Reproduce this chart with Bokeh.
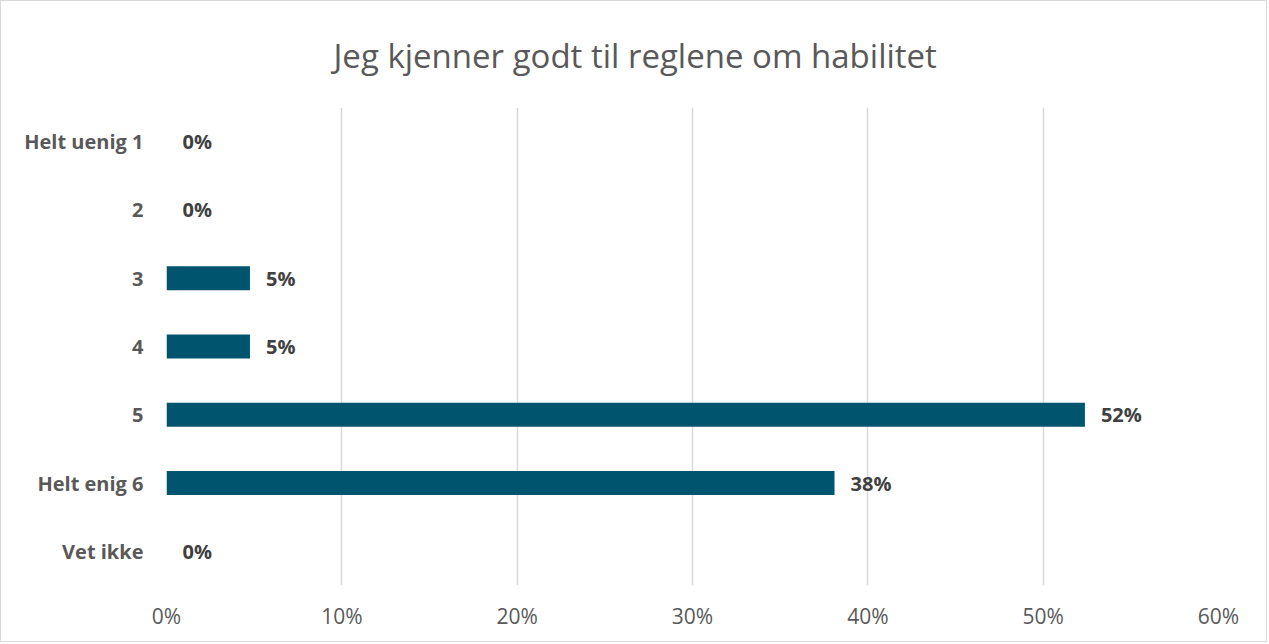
from bokeh.plotting import figure
from bokeh.models import ColumnDataSource, LabelSet, FixedTicker, PrintfTickFormatter, FactorRange, Range1d
from bokeh.core.properties import value
from bokeh.embed import file_html
from bokeh.resources import INLINE

categories = ["Helt uenig 1", "2", "3", "4", "5", "Helt enig 6", "Vet ikke"]
values = [0.0, 0.0, 4.76, 4.76, 52.38, 38.10, 0.0]
labels = [f"{round(v):d}%" for v in values]
ticks = [0, 10, 20, 30, 40, 50, 60]

FONT = "Open Sans"
GREY = "#595959"

src = ColumnDataSource(dict(cat=categories, val=values, lab=labels))

p = figure(
    width=1267, height=642,
    y_range=FactorRange(*list(reversed(categories)), range_padding=0),
    x_range=Range1d(0, 60),
    output_backend="svg", toolbar_location=None,
    min_border_left=165, min_border_right=50, min_border_top=104, min_border_bottom=58,
    title="Jeg kjenner godt til reglene om habilitet",
)
p.styles = {"border": "1px solid #d9d9d9"}

p.hbar(y="cat", right="val", left=0, height=0.35, source=src,
       fill_color="#01546e", line_color=None)

p.add_layout(LabelSet(x="val", y="cat", text="lab", source=src, x_offset=16,
                      text_align="left", text_baseline="middle",
                      text_font=value(FONT), text_font_style="bold", text_font_size="20px",
                      text_color="#404040"))

p.title.text_font = FONT
p.title.text_font_size = "33px"
p.title.text_font_style = "normal"
p.title.text_color = GREY
p.title.align = "left"
p.title.offset = 167
p.title.standoff = 59

p.outline_line_color = None
p.ygrid.grid_line_color = None
p.xgrid.grid_line_color = "#d9d9d9"
p.xgrid.grid_line_width = 1.5
p.xgrid.ticker = FixedTicker(ticks=ticks)

p.xaxis.ticker = FixedTicker(ticks=ticks)
p.xaxis.formatter = PrintfTickFormatter(format="%d%%")
p.xaxis.axis_line_color = None
p.xaxis.major_tick_line_color = None
p.xaxis.minor_tick_line_color = None
p.xaxis.major_label_text_font = FONT
p.xaxis.major_label_text_font_size = "21px"
p.xaxis.major_label_text_color = GREY
p.xaxis.major_label_standoff = 10

p.yaxis.axis_line_color = None
p.yaxis.major_tick_line_color = None
p.yaxis.minor_tick_line_color = None
p.yaxis.major_label_text_font = FONT
p.yaxis.major_label_text_font_size = "20px"
p.yaxis.major_label_text_font_style = "bold"
p.yaxis.major_label_text_color = GREY
p.yaxis.major_label_standoff = 17

open("out.html", "w").write(file_html(p, INLINE))
